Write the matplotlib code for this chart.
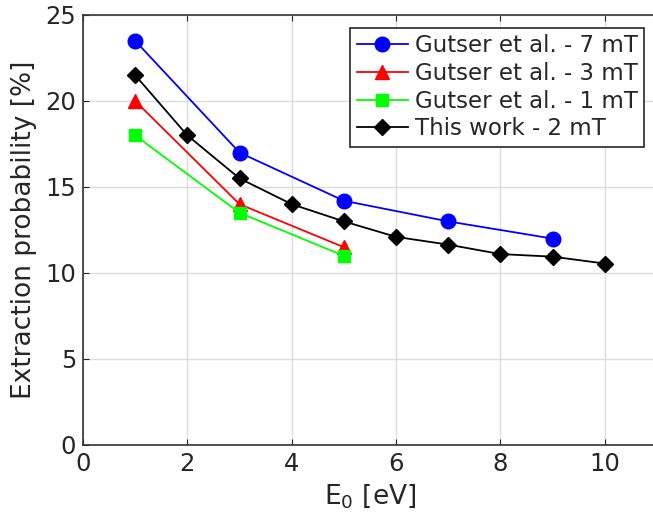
import matplotlib
matplotlib.use("Agg")
import matplotlib.pyplot as plt

x_7mT = [1, 3, 5, 7, 9]
y_7mT = [23.5, 17.0, 14.2, 13.0, 12.0]
x_3mT = [1, 3, 5]
y_3mT = [20.0, 14.0, 11.5]
x_1mT = [1, 3, 5]
y_1mT = [18.0, 13.5, 11.0]
x_2mT = [1, 2, 3, 4, 5, 6, 7, 8, 9, 10]
y_2mT = [21.5, 18.0, 15.5, 14.0, 13.0, 12.1, 11.65, 11.1, 10.95, 10.55]

labels = ["Gutser et al. - 7 mT", "Gutser et al. - 3 mT",
          "Gutser et al. - 1 mT", "This work - 2 mT"]

plt.rcParams['font.family'] = ['DejaVu Sans']
tc = '#262626'
fig = plt.figure(figsize=(6.53, 5.28), dpi=100)
ax = fig.add_axes([83/653, 83/528, 574/653, 430/528])

ax.plot(x_7mT, y_7mT, '-o', color='#0000ff', lw=1.3, ms=10.5, label=labels[0])
ax.plot(x_3mT, y_3mT, '-^', color='#ff0000', lw=1.3, ms=10.5, label=labels[1])
ax.plot(x_1mT, y_1mT, '-s', color='#00ff00', lw=1.3, ms=8, label=labels[2])
ax.plot(x_2mT, y_2mT, '-D', color='black', lw=1.3, ms=8.5, label=labels[3])

ax.set_xlim(0, 11)
ax.set_ylim(0, 25)
ax.set_xticks([0, 2, 4, 6, 8, 10])
ax.set_yticks([0, 5, 10, 15, 20, 25])
ax.grid(True, color='#dcdcdc', lw=1)
ax.set_axisbelow(True)
ax.tick_params(labelsize=17.5, colors=tc, direction='in', length=4, top=True, pad=5)
for s in ['left', 'bottom', 'top']:
    ax.spines[s].set_color('#333333')
    ax.spines[s].set_linewidth(1.2)
ax.spines['right'].set_visible(False)
ax.set_xlabel('E$_0$ [eV]', fontsize=19, color=tc, labelpad=4)
ax.set_ylabel('Extraction probability [%]', fontsize=19, color=tc, labelpad=6)

leg = ax.legend(loc='upper right', fontsize=16.5, fancybox=False, framealpha=1,
                edgecolor='#262626', handlelength=2.2, borderpad=0.3,
                labelspacing=0.2, handletextpad=0.3, borderaxespad=0.55)
leg.get_frame().set_linewidth(1.2)
for t in leg.get_texts():
    t.set_color(tc)

fig.savefig('out.png', dpi=100)
